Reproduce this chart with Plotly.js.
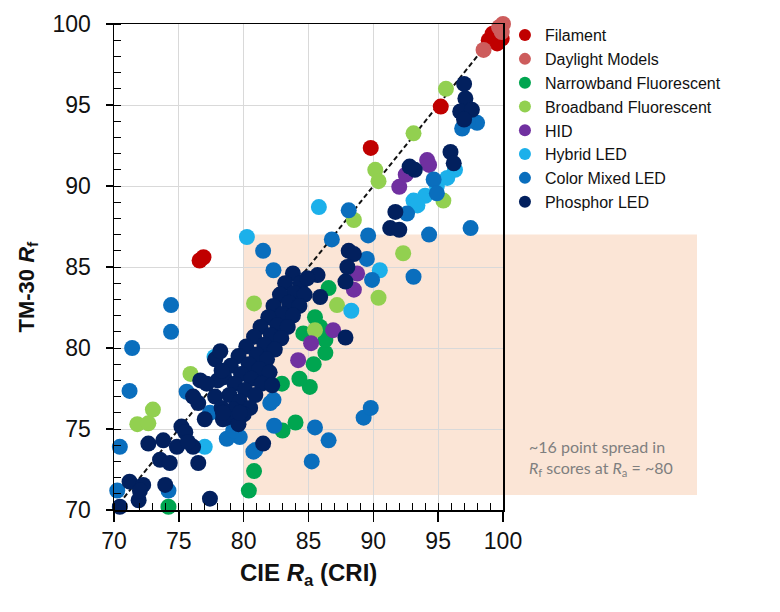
<!DOCTYPE html>
<html>
<head>
<meta charset="utf-8">
<script src="https://cdn.plot.ly/plotly-3.0.1.min.js"></script>
<style>html,body{margin:0;padding:0;background:#fff;}#chart{width:780px;height:612px;}</style>
</head>
<body>
<div id="chart"></div>
<script>
// ---- data ----
var seriesNames = ["Filament", "Daylight Models", "Narrowband Fluorescent", "Broadband Fluorescent", "HID", "Hybrid LED", "Color Mixed LED", "Phosphor LED"];
var seriesColors = ["#C00000", "#CD5C5C", "#00A550", "#92D050", "#7030A0", "#1CB0EA", "#0A6EBD", "#02205E"];

var filamentX = [98.9, 99.2, 99.55, 99.55, 99.8, 99.9, 95.2, 89.8, 76.6, 76.9];
var filamentY = [99.0, 99.4, 99.3, 98.8, 99.6, 99.1, 94.9, 92.35, 85.4, 85.6];

var daylightX = [98.5, 99.7, 100.0, 99.9];
var daylightY = [98.4, 99.8, 100.0, 99.5];

var narrowX = [80.4, 80.8, 83.0, 84.0, 79.3, 85.1, 84.3, 82.95, 85.4, 86.3, 86.3, 85.9, 86.55, 85.5, 74.2, 84.6];
var narrowY = [71.2, 72.4, 74.9, 75.4, 75.1, 77.6, 78.1, 77.8, 79.0, 79.7, 80.5, 81.3, 83.7, 81.9, 70.2, 80.9];

var broadX = [95.6, 93.1, 90.15, 90.4, 95.4, 88.5, 92.3, 90.4, 87.2, 80.8, 75.9, 71.8, 72.65, 73.0, 85.5];
var broadY = [96.0, 93.25, 91.0, 90.3, 89.1, 87.9, 85.85, 83.1, 82.65, 82.75, 78.4, 75.3, 75.35, 76.2, 81.1];

var hidX = [92.0, 92.5, 94.15, 94.3, 88.75, 88.5, 86.9, 85.2, 84.2];
var hidY = [89.95, 90.7, 91.6, 91.3, 84.6, 83.6, 81.1, 80.3, 79.25];

var hybridX = [80.25, 85.8, 90.5, 88.3, 77.75, 77.0, 93.1, 94.0, 94.9, 95.7, 93.4, 96.3];
var hybridY = [86.85, 88.7, 84.8, 82.3, 79.45, 73.9, 89.1, 89.4, 90.0, 90.5, 88.8, 91.0];

var mixedX = [88.1, 86.8, 89.6, 94.3, 97.5, 81.5, 82.3, 74.4, 93.1, 89.5, 89.9, 74.4, 71.4, 71.2, 70.45, 70.25,
              75.6, 74.2, 82.05, 82.35, 85.5, 86.55, 85.25, 89.25, 89.8, 79.7, 80.75, 78.7, 80.9, 96.85,
              98.0, 97.3, 94.65, 94.9, 92.6, 82.3, 79.2, 77.4];
var mixedY = [88.5, 86.7, 86.95, 87.0, 87.4, 86.0, 84.8, 82.65, 84.4, 85.5, 84.2, 81.0, 80.0, 77.35, 73.9, 71.2,
              77.3, 71.2, 76.6, 75.2, 75.1, 74.3, 73.0, 75.7, 76.3, 74.5, 73.6, 74.4, 73.7, 93.55,
              93.9, 94.0, 90.4, 89.55, 88.3, 76.8, 74.9, 76.0];

var phosphorX = [97.0, 97.1, 96.7, 97.6, 97.0, 95.95, 96.2, 93.2, 92.8, 91.7, 91.3, 92.0, 88.1, 88.5, 85.7, 85.9,
                 87.85, 87.85, 88.0,
                 83.8, 84.4, 83.2, 83.9, 84.7, 82.8, 83.5, 84.3, 82.3, 83.0, 83.8, 81.9, 82.6, 83.4, 81.3, 82.1,
                 82.9, 80.8, 81.6, 82.4, 80.2, 81.0, 81.8, 79.6, 80.4, 81.2, 82.0, 79.0, 79.8, 80.6, 81.4, 78.5,
                 79.3, 80.1, 80.9, 78.9, 79.7, 80.5, 79.2, 80.0, 78.7, 79.6, 77.8, 78.2, 84.9, 78.0, 77.8, 78.3,
                 78.4, 81.5, 79.7, 77.4, 82.2,
                 76.65, 76.5, 78.3, 75.2, 73.8, 72.65, 73.55, 74.85, 76.1, 76.5, 71.2, 72.25, 73.95, 71.9, 70.45,
                 77.15, 78.4, 75.5, 74.3, 72.0, 75.7, 76.1, 77.0];
var phosphorY = [96.3, 95.4, 94.6, 94.7, 94.1, 92.1, 91.4, 91.0, 91.2, 88.4, 87.4, 87.3, 86.0, 85.8, 84.5, 83.15,
                 84.1, 80.65, 85.0,
                 84.6, 84.0, 84.0, 83.4, 83.3, 83.3, 82.8, 82.6, 82.6, 82.1, 82.0, 81.9, 81.4, 81.3, 81.3, 80.8,
                 80.6, 80.7, 80.2, 79.9, 80.1, 79.6, 79.3, 79.5, 79.0, 78.7, 78.5, 78.9, 78.4, 78.1, 77.8, 78.2,
                 77.8, 77.4, 77.1, 77.1, 76.7, 76.3, 76.2, 75.9, 75.7, 75.3, 79.3, 79.8, 84.3, 78.0, 77.0, 76.3,
                 75.6, 74.1, 76.0, 70.7, 77.7,
                 78.0, 76.6, 78.6, 75.15, 74.3, 74.1, 73.1, 73.9, 73.9, 72.9, 71.75, 71.55, 71.55, 70.6, 70.2,
                 77.8, 76.0, 74.8, 72.9, 71.2, 74.2, 77.0, 75.6];

var oneToOneX = [70, 100];
var oneToOneY = [70, 100];

var xTicks = [70, 75, 80, 85, 90, 95, 100];
var yTicks = [70, 75, 80, 85, 90, 95, 100];

// ---- traces ----
var seriesX = [filamentX, daylightX, narrowX, broadX, hidX, hybridX, mixedX, phosphorX];
var seriesY = [filamentY, daylightY, narrowY, broadY, hidY, hybridY, mixedY, phosphorY];

var traces = [{
  x: oneToOneX, y: oneToOneY, mode: 'lines', showlegend: false, hoverinfo: 'skip',
  line: {color: '#111', width: 2, dash: '5px,3px'}
}];
for (var i = 0; i < seriesNames.length; i++) {
  traces.push({
    x: seriesX[i], y: seriesY[i], name: seriesNames[i], type: 'scatter', mode: 'markers',
    cliponaxis: false,
    marker: {color: seriesColors[i], size: 16, line: {width: 0}}
  });
}

var FONT = 'Liberation Sans, Arial, sans-serif';
var axisCommon = {
  range: [70, 100], showline: true, linecolor: '#000', linewidth: 1.5, mirror: true,
  showgrid: true, gridcolor: '#d9d9d9', gridwidth: 1, zeroline: false,
  ticks: 'outside', tickcolor: '#000', tickwidth: 1.5,
  minor: {dtick: 1, ticks: 'inside', ticklen: 7, tickcolor: '#000', tickwidth: 1, showgrid: false},
  tickfont: {family: FONT, size: 23, color: '#111'}, tickmode: 'array'
};

var layout = {
  width: 780, height: 612,
  margin: {l: 114, r: 277, t: 24, b: 102},
  paper_bgcolor: '#fff', plot_bgcolor: 'rgba(0,0,0,0)',
  font: {family: FONT, color: '#111'},
  showlegend: true,
  legend: {x: 1.005, y: 1.012, xanchor: 'left', yanchor: 'top', bgcolor: 'rgba(0,0,0,0)',
           font: {family: FONT, size: 16, color: '#111'}, itemsizing: 'constant', tracegroupgap: 0},
  xaxis: Object.assign({}, axisCommon, {
    tickvals: xTicks, ticktext: xTicks.map(String), ticklen: 10, ticklabelstandoff: 0
  }),
  yaxis: Object.assign({}, axisCommon, {
    tickvals: yTicks, ticktext: yTicks.map(String), ticklen: 7, ticklabelstandoff: 10
  }),
  shapes: [{
    type: 'rect', xref: 'paper', yref: 'paper', x0: 1/3, x1: 1.4987, y0: 0.031, y1: 0.5667,
    fillcolor: '#FBE5D6', line: {width: 0}, layer: 'below'
  }],
  annotations: [{
    xref: 'paper', yref: 'paper', x: 0.5, y: -0.133, xanchor: 'center', yanchor: 'middle', showarrow: false,
    text: '<b>CIE <i>R</i><sub>a</sub> (CRI)</b>', font: {family: FONT, size: 24, color: '#111'}
  }, {
    xref: 'paper', yref: 'paper', x: -0.221, y: 0.46, xanchor: 'center', yanchor: 'middle', textangle: -90, showarrow: false,
    text: '<b>TM-30 <i>R</i><sub>f</sub></b>', font: {family: FONT, size: 22, color: '#111'}
  }, {
    xref: 'paper', yref: 'paper', x: 1.252, y: 0.107, xanchor: 'center', yanchor: 'middle', showarrow: false, align: 'left',
    text: '~16 point spread in<br><i>R</i><sub>f</sub> scores at <i>R</i><sub>a</sub> = ~80',
    font: {family: 'Lato, Open Sans, sans-serif', size: 16, color: '#7f7f7f'}
  }]
};

Plotly.newPlot('chart', traces, layout, {staticPlot: true, displayModeBar: false});
</script>
</body>
</html>
